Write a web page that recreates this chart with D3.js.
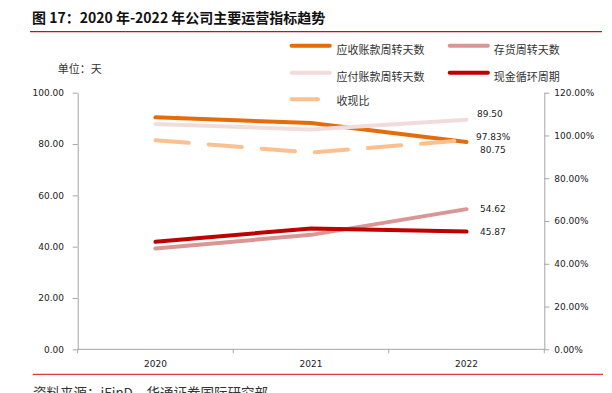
<!DOCTYPE html>
<html>
<head>
<meta charset="utf-8">
<script src="https://cdn.jsdelivr.net/npm/d3@7"></script>
<style>
  html, body { margin: 0; padding: 0; background: #fff; }
  svg text { fill: #222; }
  .num { font-family: "DejaVu Sans", sans-serif; font-size: 9px; }
  .cjk { font-family: "Noto Sans CJK SC", sans-serif; }
</style>
</head>
<body>
<div id="chart"></div>
<script>
// 数据
const years = ["2020", "2021", "2022"];
const arDays = [90.4, 88.2, 80.75];     // 应收账款周转天数
const invDays = [39.3, 44.6, 54.62];    // 存货周转天数
const apDays = [87.8, 85.7, 89.50];     // 应付账款周转天数
const cccDays = [41.9, 47.1, 45.87];    // 现金循环周期
const cashRatio = [97.8, 92.0, 97.83];  // 收现比 (%)
const leftTicks = [0, 20, 40, 60, 80, 100];
const rightTicks = [0, 20, 40, 60, 80, 100, 120];

const W = 612, H = 393;
const plotL = 77.7, plotR = 544.3, plotT = 92.7, plotB = 349.3;

const svg = d3.select("#chart").append("svg")
    .attr("width", W)
    .attr("height", H);

// 标题
svg.append("text")
    .attr("class", "cjk")
    .attr("x", 32)
    .attr("y", 17)
    .attr("dominant-baseline", "central")
    .style("font-size", "14px")
    .style("font-weight", "bold")
    .style("fill", "#111")
    .text("图 17：2020 年-2022 年公司主要运营指标趋势");

svg.append("line")
    .attr("x1", 30).attr("x2", 602)
    .attr("y1", 31.7).attr("y2", 31.7)
    .attr("stroke", "#c8101c")
    .attr("stroke-width", 1.2);

const x = d3.scaleBand().domain(years).range([plotL, plotR]);
const cx = d => x(d) + x.bandwidth() / 2;
const yL = d3.scaleLinear().domain([0, 100]).range([plotB, plotT]);
const yR = d3.scaleLinear().domain([0, 120]).range([plotB, plotT]);

function styleAxis(g) {
    g.selectAll("path, line").attr("stroke", "#a6a6a6");
    g.selectAll("text").attr("class", "num").style("fill", "#222");
}

// 左轴
svg.append("g")
    .attr("transform", `translate(${plotL},0)`)
    .call(d3.axisLeft(yL).tickValues(leftTicks).tickFormat(d3.format(".2f"))
        .tickSize(5).tickSizeOuter(0).tickPadding(8.7))
    .call(styleAxis);

// 右轴
svg.append("g")
    .attr("transform", `translate(${plotR},0)`)
    .call(d3.axisRight(yR).tickValues(rightTicks).tickFormat(d => d.toFixed(2) + "%")
        .tickSize(5).tickSizeOuter(0).tickPadding(5))
    .call(styleAxis);

// 横轴
const xAxis = svg.append("g")
    .attr("transform", `translate(0,${plotB})`)
    .call(d3.axisBottom(x).tickSize(0).tickPadding(11.5))
    .call(styleAxis);
xAxis.select(".domain").attr("d", `M${plotL},0H${plotR}`);
xAxis.selectAll(".sep")
    .data(years.concat(["end"]))
    .enter().append("line")
    .attr("class", "sep")
    .attr("x1", d => d === "end" ? plotR : x(d))
    .attr("x2", d => d === "end" ? plotR : x(d))
    .attr("y1", 0).attr("y2", 4)
    .attr("stroke", "#a6a6a6");

// 系列
const series = [
    { name: "应收账款周转天数", values: arDays, color: "#e46c0a", axis: yL },
    { name: "存货周转天数", values: invDays, color: "#d99694", axis: yL },
    { name: "应付账款周转天数", values: apDays, color: "#f2dcdb", axis: yL },
    { name: "现金循环周期", values: cccDays, color: "#c00000", axis: yL },
    { name: "收现比", values: cashRatio, color: "#fac090", axis: yR, dash: "33.3,20" }
];

series.forEach(s => {
    const line = d3.line()
        .x((v, i) => cx(years[i]))
        .y(v => s.axis(v));
    svg.append("path")
        .datum(s.values)
        .attr("d", line)
        .attr("fill", "none")
        .attr("stroke", s.color)
        .attr("stroke-width", 4)
        .attr("stroke-linecap", "round")
        .attr("stroke-linejoin", "round")
        .attr("stroke-dasharray", s.dash || null);
});

// 数据标签 (2022)
const labelSpec = [
    { s: 2, fmt: v => v.toFixed(2), dx: 10.5, dy: -6 },
    { s: 4, fmt: v => v.toFixed(2) + "%", dx: 9.5, dy: -3.3 },
    { s: 0, fmt: v => v.toFixed(2), dx: 13.5, dy: 8 },
    { s: 1, fmt: v => v.toFixed(2), dx: 13.5, dy: 0.3 },
    { s: 3, fmt: v => v.toFixed(2), dx: 13.5, dy: 0.7 }
];
labelSpec.forEach(l => {
    const s = series[l.s];
    const v = s.values[2];
    svg.append("text")
        .attr("class", "num")
        .attr("x", cx(years[2]) + l.dx)
        .attr("y", s.axis(v) + l.dy)
        .attr("dominant-baseline", "central")
        .text(l.fmt(v));
});

// 图例
const legendPos = [
    { x: 289.6, y: 45.7 }, { x: 447.7, y: 45.7 },
    { x: 289.6, y: 72.7 }, { x: 447.7, y: 72.7 },
    { x: 289.6, y: 99.3 }
];
series.forEach((s, i) => {
    const p = legendPos[i];
    const g = svg.append("g").attr("transform", `translate(${p.x},${p.y})`);
    g.append("line")
        .attr("x1", 2).attr("x2", s.dash ? 28.4 : 40.2)
        .attr("y1", 0).attr("y2", 0)
        .attr("stroke", s.color)
        .attr("stroke-width", 4)
        .attr("stroke-linecap", "round");
    g.append("text")
        .attr("class", "cjk")
        .attr("x", i % 2 === 0 ? 46.9 : 46.1)
        .attr("y", i === 4 ? 0.8 : 3.2)
        .attr("dominant-baseline", "central")
        .style("font-size", "11px")
        .style("fill", "#333")
        .text(s.name);
});

// 单位
svg.append("text")
    .attr("class", "cjk")
    .attr("x", 57.8)
    .attr("y", 68)
    .attr("dominant-baseline", "central")
    .style("font-size", "11px")
    .style("fill", "#333")
    .text("单位：天");

// 底部
svg.append("line")
    .attr("x1", 32.7).attr("x2", 603)
    .attr("y1", 374.3).attr("y2", 374.3)
    .attr("stroke", "#e23a40")
    .attr("stroke-width", 1.2);

svg.append("text")
    .attr("class", "cjk")
    .attr("x", 33)
    .attr("y", 398)
    .style("font-size", "13.5px")
    .style("fill", "#333")
    .text("资料来源：iFinD，华通证券国际研究部");
</script>
</body>
</html>
